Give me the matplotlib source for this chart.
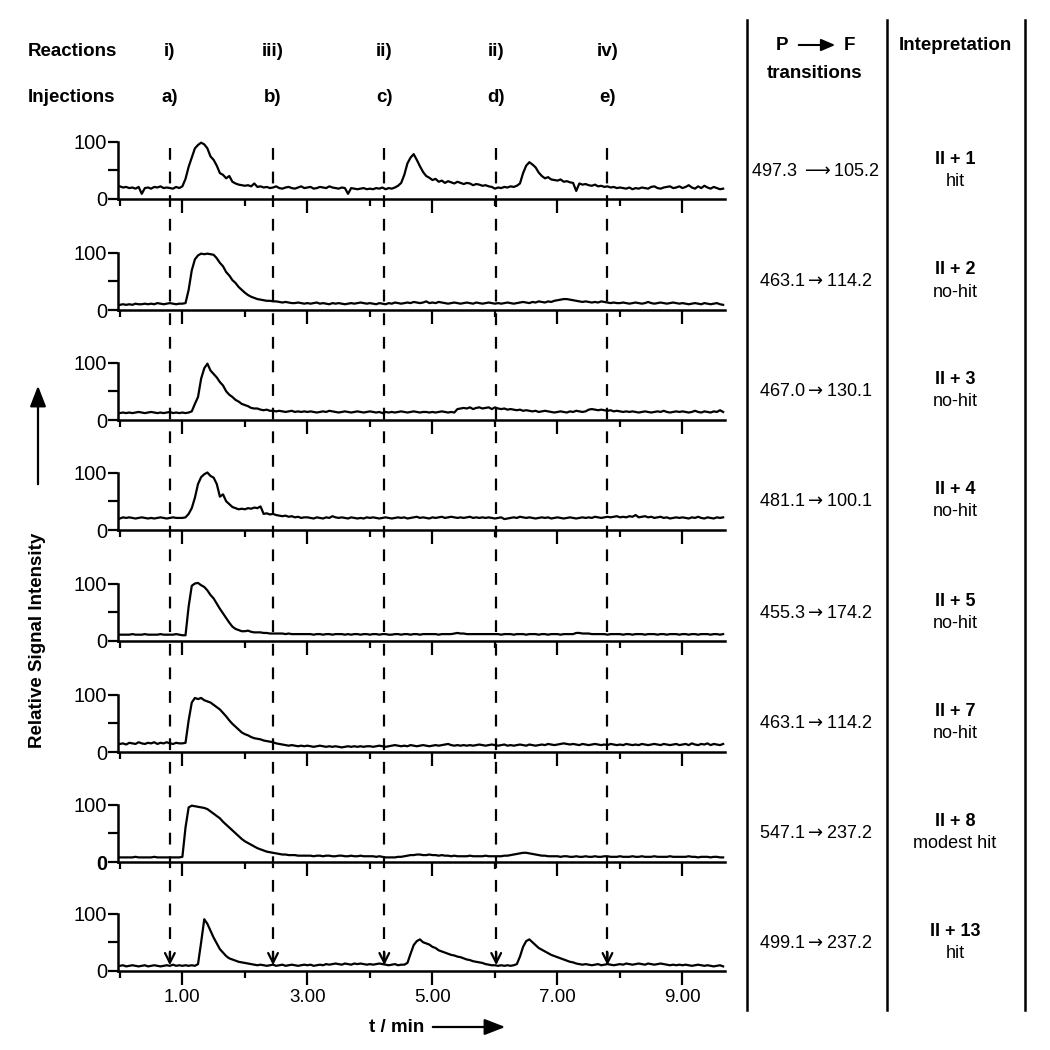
import numpy as np
import matplotlib
matplotlib.use("Agg")
import matplotlib.pyplot as plt
from matplotlib.transforms import blended_transform_factory
from matplotlib.lines import Line2D
from matplotlib.patches import FancyArrowPatch

plt.rcParams['font.family'] = ['Liberation Sans', 'DejaVu Sans']
plt.rcParams['mathtext.fontset'] = 'dejavusans'
plt.rcParams['lines.scale_dashes'] = False

# ---------------- data ----------------
t_step = 0.05  # min between samples

sig_II1 = [22, 20, 21, 19, 20, 18, 21, 9, 19, 20, 18, 21, 20, 22, 19, 20, 19, 18, 21, 19,
           22, 35, 56, 72, 88, 94, 98, 95, 88, 74, 68, 58, 45, 42, 36, 40, 30, 27, 25, 24,
           23, 24, 22, 27, 21, 22, 20, 21, 19, 20, 22, 19, 18, 20, 21, 19, 18, 20, 22, 19,
           20, 21, 18, 19, 21, 20, 19, 22, 20, 19, 18, 20, 19, 9, 19, 18, 17, 18, 19, 17,
           18, 17, 19, 18, 20, 17, 19, 18, 20, 23, 28, 42, 62, 72, 78, 68, 57, 47, 40, 37,
           33, 35, 30, 32, 28, 31, 29, 27, 30, 28, 26, 28, 27, 24, 26, 25, 23, 24, 22, 21,
           18, 20, 19, 21, 20, 22, 21, 23, 27, 45, 58, 64, 60, 55, 46, 40, 36, 38, 34, 33,
           32, 34, 30, 31, 29, 28, 14, 27, 25, 26, 24, 23, 25, 22, 23, 21, 22, 20, 21, 19,
           20, 19, 18, 20, 17, 19, 18, 20, 19, 18, 21, 22, 19, 18, 20, 21, 22, 19, 20, 22,
           19, 21, 24, 20, 18, 22, 19, 23, 20, 18, 21, 19, 17, 18]

sig_II2 = [9, 10, 9, 10, 9, 11, 10, 10, 11, 10, 11, 10, 12, 11, 10, 11, 12, 11, 10, 11,
           11, 12, 35, 69, 88, 95, 98, 97, 98, 97, 96, 90, 82, 76, 66, 60, 52, 47, 40, 35,
           30, 26, 23, 21, 19, 18, 17, 16, 16, 15, 15, 14, 13, 14, 13, 12, 12, 13, 12, 11,
           12, 11, 12, 13, 11, 12, 11, 10, 12, 11, 12, 11, 10, 11, 12, 11, 12, 13, 12, 11,
           12, 11, 10, 12, 11, 10, 12, 11, 13, 12, 11, 12, 13, 12, 14, 13, 12, 13, 15, 12,
           13, 12, 14, 13, 12, 11, 12, 13, 12, 11, 12, 13, 12, 11, 13, 12, 11, 12, 13, 12,
           11, 12, 11, 12, 13, 12, 11, 12, 13, 14, 13, 12, 14, 13, 15, 14, 13, 15, 14, 16,
           17, 18, 19, 19, 18, 17, 16, 15, 14, 15, 14, 13, 14, 13, 15, 14, 13, 12, 13, 12,
           12, 13, 12, 11, 12, 13, 12, 11, 12, 14, 12, 11, 12, 13, 12, 11, 12, 13, 12, 11,
           12, 11, 10, 11, 12, 11, 10, 12, 11, 10, 11, 12, 10, 9]

sig_II3 = [12, 13, 12, 13, 12, 13, 14, 13, 12, 13, 14, 13, 12, 13, 12, 13, 14, 12, 13, 12,
           13, 12, 13, 15, 28, 40, 72, 90, 98, 86, 80, 74, 66, 60, 50, 44, 40, 35, 32, 28,
           26, 24, 21, 20, 20, 18, 17, 18, 16, 16, 15, 16, 15, 14, 15, 16, 14, 15, 14, 15,
           14, 15, 14, 13, 14, 15, 14, 16, 15, 14, 13, 14, 15, 14, 13, 14, 15, 14, 13, 14,
           15, 14, 13, 14, 12, 14, 13, 14, 13, 14, 15, 14, 13, 14, 15, 14, 13, 14, 14, 13,
           14, 13, 14, 15, 14, 13, 14, 13, 19, 20, 21, 20, 22, 19, 21, 22, 20, 21, 22, 19,
           22, 20, 19, 20, 18, 19, 18, 17, 18, 16, 17, 16, 15, 16, 14, 15, 16, 15, 14, 13,
           14, 15, 14, 13, 15, 14, 16, 15, 14, 15, 18, 19, 18, 17, 18, 17, 16, 17, 15, 16,
           15, 14, 15, 14, 15, 14, 13, 14, 15, 14, 13, 14, 15, 14, 16, 14, 13, 14, 15, 14,
           15, 14, 13, 14, 16, 14, 13, 15, 14, 13, 15, 14, 17, 14]

sig_II4 = [20, 22, 21, 22, 21, 20, 21, 22, 21, 20, 21, 20, 21, 22, 21, 20, 21, 22, 21, 21,
           21, 22, 28, 38, 56, 80, 92, 97, 100, 94, 91, 80, 58, 62, 50, 45, 40, 38, 36, 37,
           36, 38, 37, 39, 38, 41, 28, 29, 27, 28, 26, 25, 24, 25, 23, 24, 22, 23, 21, 22,
           22, 21, 20, 22, 21, 20, 22, 21, 24, 22, 21, 22, 21, 20, 22, 21, 20, 21, 20, 22,
           21, 22, 21, 20, 21, 22, 21, 20, 21, 22, 21, 22, 20, 21, 22, 23, 21, 22, 21, 20,
           22, 21, 22, 23, 21, 22, 23, 22, 21, 22, 21, 22, 23, 21, 22, 21, 22, 21, 22, 21,
           20, 21, 22, 19, 20, 21, 22, 21, 23, 22, 21, 22, 21, 20, 21, 22, 21, 22, 20, 21,
           22, 21, 20, 21, 22, 21, 20, 21, 22, 21, 22, 21, 23, 22, 21, 22, 23, 22, 23, 24,
           22, 23, 22, 24, 23, 26, 22, 23, 24, 22, 23, 21, 22, 23, 21, 22, 20, 21, 22, 21,
           22, 21, 20, 22, 21, 23, 21, 20, 22, 21, 20, 22, 21, 22]

sig_II5 = [11, 11, 11, 11, 12, 11, 11, 11, 12, 11, 11, 11, 11, 12, 11, 11, 11, 11, 12, 11,
           10, 10, 60, 96, 100, 101, 97, 94, 88, 80, 74, 65, 56, 48, 40, 32, 25, 21, 19, 17,
           17, 18, 16, 15, 15, 15, 14, 14, 13, 13, 13, 13, 13, 12, 13, 12, 12, 12, 12, 12,
           12, 12, 11, 12, 12, 11, 12, 12, 11, 12, 12, 12, 11, 12, 11, 12, 12, 11, 12, 12,
           11, 12, 12, 11, 12, 12, 11, 11, 12, 12, 11, 12, 12, 11, 12, 12, 11, 12, 12, 12,
           12, 12, 11, 12, 12, 12, 12, 13, 14, 13, 13, 12, 12, 12, 12, 12, 12, 12, 12, 12,
           12, 12, 11, 12, 12, 12, 11, 12, 12, 12, 11, 12, 12, 12, 11, 12, 12, 11, 12, 12,
           12, 11, 12, 12, 12, 12, 14, 14, 13, 13, 13, 12, 12, 12, 12, 12, 11, 12, 12, 12,
           12, 11, 12, 12, 11, 12, 12, 12, 11, 12, 12, 12, 11, 12, 12, 11, 12, 12, 12, 11,
           12, 12, 11, 12, 12, 11, 12, 12, 12, 11, 12, 12, 11, 12]

sig_II7 = [14, 15, 13, 16, 15, 14, 17, 15, 14, 16, 15, 17, 14, 16, 15, 17, 15, 14, 16, 15,
           15, 16, 55, 86, 94, 92, 94, 90, 88, 86, 82, 78, 74, 68, 62, 55, 49, 44, 39, 34,
           31, 29, 26, 24, 23, 22, 20, 19, 18, 17, 15, 14, 13, 12, 11, 12, 11, 10, 11, 10,
           11, 10, 9, 10, 11, 10, 9, 10, 9, 10, 9, 8, 9, 10, 9, 10, 9, 10, 9, 10,
           10, 9, 10, 11, 10, 9, 10, 11, 12, 11, 10, 11, 10, 12, 11, 10, 11, 12, 11, 10,
           11, 12, 11, 12, 13, 14, 12, 11, 12, 11, 12, 11, 12, 11, 12, 13, 12, 11, 12, 13,
           12, 11, 12, 13, 11, 12, 11, 12, 13, 12, 11, 13, 12, 11, 12, 13, 12, 14, 13, 12,
           13, 14, 15, 14, 13, 14, 13, 12, 14, 13, 12, 13, 14, 13, 12, 13, 12, 14, 13, 12,
           13, 12, 14, 13, 12, 13, 12, 14, 13, 12, 13, 14, 13, 12, 14, 13, 12, 13, 14, 12,
           13, 14, 12, 15, 13, 12, 14, 13, 15, 12, 14, 13, 12, 14]

sig_II8 = [8, 8, 8, 8, 8, 9, 8, 8, 8, 8, 8, 9, 8, 8, 8, 8, 8, 8, 8, 8,
           9, 60, 95, 98, 97, 96, 95, 94, 92, 88, 84, 80, 76, 70, 65, 60, 55, 50, 45, 40,
           36, 33, 30, 27, 24, 22, 20, 18, 17, 16, 15, 14, 13, 13, 12, 12, 12, 11, 11, 11,
           11, 11, 10, 11, 11, 10, 11, 11, 10, 10, 11, 11, 10, 10, 11, 10, 10, 11, 10, 10,
           10, 10, 9, 10, 9, 8, 8, 8, 8, 9, 9, 10, 11, 12, 12, 13, 13, 12, 12, 13,
           12, 12, 11, 12, 11, 11, 10, 11, 10, 10, 10, 10, 11, 10, 10, 10, 10, 11, 10, 10,
           10, 10, 10, 11, 11, 12, 13, 14, 15, 16, 16, 15, 14, 13, 12, 11, 11, 10, 10, 10,
           10, 9, 10, 10, 9, 9, 10, 9, 9, 10, 9, 9, 10, 9, 9, 10, 10, 9, 9, 9,
           10, 9, 9, 9, 10, 9, 9, 10, 9, 9, 9, 10, 9, 9, 9, 9, 10, 9, 9, 9,
           9, 9, 10, 9, 9, 8, 9, 9, 9, 8, 9, 9, 8, 8]

sig_II13 = [9, 10, 8, 9, 10, 9, 8, 9, 10, 8, 9, 10, 9, 8, 9, 10, 9, 11, 9, 10,
            9, 10, 9, 10, 9, 12, 50, 90, 82, 70, 58, 48, 38, 32, 26, 22, 20, 18, 16, 15,
            14, 13, 12, 11, 10, 11, 10, 9, 10, 11, 9, 10, 11, 9, 10, 11, 10, 9, 10, 11,
            10, 11, 9, 10, 11, 10, 12, 11, 12, 13, 12, 11, 13, 12, 11, 13, 12, 13, 12, 11,
            12, 11, 12, 13, 12, 11, 10, 11, 12, 10, 11, 11, 14, 30, 45, 52, 55, 50, 48, 46,
            42, 40, 36, 34, 32, 30, 28, 27, 25, 24, 22, 20, 19, 17, 16, 15, 14, 12, 11, 10,
            10, 9, 10, 9, 10, 9, 10, 12, 25, 42, 52, 55, 50, 45, 40, 37, 34, 31, 28, 26,
            24, 22, 20, 18, 16, 15, 13, 12, 11, 12, 11, 10, 11, 12, 10, 11, 12, 11, 10, 11,
            12, 11, 13, 12, 11, 12, 13, 12, 11, 13, 12, 11, 12, 13, 12, 11, 10, 11, 10, 11,
            10, 11, 10, 9, 10, 11, 10, 9, 10, 9, 8, 9, 10, 8]

signals = [sig_II1, sig_II2, sig_II3, sig_II4, sig_II5, sig_II7, sig_II8, sig_II13]

transitions = ["497.3 $\\longrightarrow$105.2", "463.1$\\rightarrow$114.2", "467.0$\\rightarrow$130.1",
               "481.1$\\rightarrow$100.1", "455.3$\\rightarrow$174.2", "463.1$\\rightarrow$114.2",
               "547.1$\\rightarrow$237.2", "499.1$\\rightarrow$237.2"]
compounds = ["II + 1", "II + 2", "II + 3", "II + 4", "II + 5", "II + 7", "II + 8", "II + 13"]
verdicts = ["hit", "no-hit", "no-hit", "no-hit", "no-hit", "no-hit", "modest hit", "hit"]

injection_times = [0.80, 2.45, 4.23, 6.02, 7.80]
reaction_labels = ["i)", "iii)", "ii)", "ii)", "iv)"]
injection_labels = ["a)", "b)", "c)", "d)", "e)"]

x_major = [1, 3, 5, 7, 9]
x_minor = [0, 2, 4, 6, 8]
x_ticklabels = ["1.00", "3.00", "5.00", "7.00", "9.00"]

# ---------------- layout ----------------
W = H = 1050
fig = plt.figure(figsize=(10.5, 10.5), dpi=100)

zero_px = [199, 310, 420, 530, 641, 752, 862, 971]
px_per_unit = 0.575
ymax = 108
ax_left, ax_right = 118, 725
FS = 13.5
axes = []
for i, (zp, sig) in enumerate(zip(zero_px, signals)):
    h = ymax * px_per_unit
    ax = fig.add_axes([ax_left / W, (H - zp) / H, (ax_right - ax_left) / W, h / H])
    t = np.arange(len(sig)) * t_step
    ax.plot(t, sig, color='black', lw=1.6, clip_on=False)
    ax.set_xlim(-0.03, 9.68)
    ax.set_ylim(0, ymax)
    ax.patch.set_visible(False)
    for s in ['top', 'right']:
        ax.spines[s].set_visible(False)
    ax.spines['left'].set_bounds(0, 100)
    ax.spines['left'].set_linewidth(1.8)
    ax.spines['bottom'].set_linewidth(1.8)
    ax.set_yticks([0, 50, 100])
    ax.set_yticklabels(['0', '', '100'], fontsize=14.5)
    if i == 6:
        ax.get_yticklabels()[0].set_fontweight('bold')
    ax.tick_params(axis='y', length=7, width=1.6, pad=1)
    ax.set_xticks(x_major)
    ax.set_xticks(x_minor, minor=True)
    ax.tick_params(axis='x', which='major', length=10, width=1.6, pad=3)
    ax.tick_params(axis='x', which='minor', length=5, width=1.6)
    if i == len(signals) - 1:
        ax.set_xticklabels(x_ticklabels, fontsize=FS)
    else:
        ax.set_xticklabels([])
    axes.append(ax)

ax_last = axes[-1]
blend = blended_transform_factory(ax_last.transData, fig.transFigure)

# dashed injection lines with arrowheads in the last panel
tip_y_data = 10
tip_fig = 1 - (971 - tip_y_data * px_per_unit) / H
for tx in injection_times:
    fig.add_artist(Line2D([tx, tx], [1 - 148 / H, tip_fig + 0.004], transform=blend,
                          color='black', lw=1.6, dashes=(8.5, 8.5)))
    ax_last.annotate('', xy=(tx, tip_y_data), xytext=(tx, tip_y_data + 22),
                     arrowprops=dict(arrowstyle='->,head_length=0.7,head_width=0.35',
                                     lw=1.6, color='black', shrinkA=0, shrinkB=0))

# header labels
fig.text(28 / W, 1 - 52 / H, "Reactions", fontsize=FS, fontweight='bold', va='center', ha='left')
fig.text(28 / W, 1 - 98 / H, "Injections", fontsize=FS, fontweight='bold', va='center', ha='left')
for tx, r, j in zip(injection_times, reaction_labels, injection_labels):
    fig.text(tx, 1 - 52 / H, r, transform=blend, fontsize=FS, fontweight='bold',
             ha='center', va='center')
    fig.text(tx, 1 - 98 / H, j, transform=blend, fontsize=FS, fontweight='bold',
             ha='center', va='center')

# y label with arrow
fig.text(38 / W, 1 - 640 / H, "Relative Signal Intensity", rotation=90, fontsize=FS,
         fontweight='bold', ha='center', va='center')
fig.add_artist(FancyArrowPatch((38 / W, 1 - 487 / H), (38 / W, 1 - 383 / H),
               transform=fig.transFigure, arrowstyle='-|>,head_length=0.9,head_width=0.35',
               mutation_scale=14, lw=1.6, color='black'))

# x label with arrow
fig.text(397 / W, 1 - 1027 / H, "t / min", fontsize=FS, fontweight='bold', ha='center', va='center')
fig.add_artist(FancyArrowPatch((430 / W, 1 - 1027 / H), (508 / W, 1 - 1027 / H),
               transform=fig.transFigure, arrowstyle='-|>,head_length=0.9,head_width=0.35',
               mutation_scale=14, lw=1.6, color='black'))

# table lines
for xp in [747, 887, 1025]:
    fig.add_artist(Line2D([xp / W, xp / W], [1 - 20 / H, 1 - 1010 / H], transform=fig.transFigure,
                          color='black', lw=1.8))

# table headers
fig.text(782 / W, 1 - 45 / H, "P", fontsize=FS, fontweight='bold', ha='center', va='center')
fig.text(849 / W, 1 - 45 / H, "F", fontsize=FS, fontweight='bold', ha='center', va='center')
fig.add_artist(FancyArrowPatch((796 / W, 1 - 45 / H), (838 / W, 1 - 45 / H),
               transform=fig.transFigure, arrowstyle='-|>,head_length=0.7,head_width=0.3',
               mutation_scale=12, lw=1.5, color='black'))
fig.text(815 / W, 1 - 74 / H, "transitions", fontsize=FS, fontweight='bold', ha='center', va='center')
fig.text(955 / W, 1 - 45 / H, "Intepretation", fontsize=FS, fontweight='bold', ha='center', va='center')

for zp, tr, cp, vd in zip(zero_px, transitions, compounds, verdicts):
    fig.text(816 / W, 1 - (zp - 28) / H, tr, fontsize=13, ha='center', va='center')
    fig.text(955 / W, 1 - (zp - 40) / H, cp, fontsize=13, fontweight='bold', ha='center', va='center')
    fig.text(955 / W, 1 - (zp - 18) / H, vd, fontsize=13, ha='center', va='center')

fig.savefig("out.png", dpi=100, facecolor='white')
